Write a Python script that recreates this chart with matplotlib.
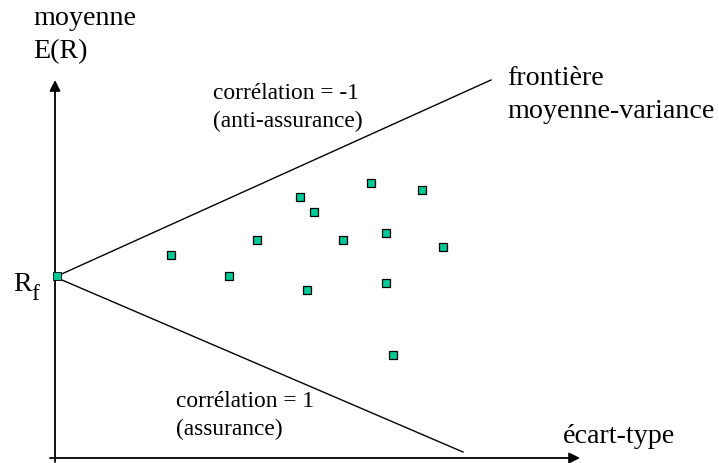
import matplotlib
matplotlib.use("Agg")
import matplotlib.pyplot as plt

plt.rcParams['font.family'] = ['Liberation Serif', 'DejaVu Serif']

# Data (x = écart-type, y = moyenne)
rf = (0.02, 1.82)
asset_sd = [1.16, 1.74, 2.02, 2.45, 2.59, 2.52, 2.88, 3.16, 3.31, 3.31, 3.67, 3.88, 3.38]
asset_mean = [2.03, 1.82, 2.18, 2.61, 2.46, 1.68, 2.18, 2.75, 2.25, 1.75, 2.68, 2.11, 1.03]
upper_sd = [0.0, 4.36]
upper_mean = [1.81, 3.78]
lower_sd = [0.0, 4.08]
lower_mean = [1.81, 0.06]

W, H = 719, 463
fig = plt.figure(figsize=(W / 100, H / 100), dpi=100)
ax = fig.add_axes([0, 0, 1, 1])
ax.set_xlim(-0.55, 6.64)
ax.set_ylim(-0.05, 4.58)
ax.axis('off')

# axes with arrows
arrow = dict(arrowstyle='-|>', color='black', lw=1.3, mutation_scale=16,
             shrinkA=0, shrinkB=0)
ax.annotate('', xy=(0.0, 3.78), xytext=(0.0, -0.04), arrowprops=arrow)
ax.annotate('', xy=(5.25, 0.0), xytext=(-0.05, 0.0), arrowprops=arrow)

# frontier lines
ax.plot(upper_sd, upper_mean, color='black', lw=1.0)
ax.plot(lower_sd, lower_mean, color='black', lw=1.0)

# assets
ax.scatter(asset_sd, asset_mean, marker='s', s=30, c='#00C896',
           edgecolors='black', linewidths=0.9, zorder=3)
ax.scatter([rf[0]], [rf[1]], marker='s', s=30, c='#00C896',
           edgecolors='black', linewidths=0.6, zorder=3)

big = 20.2
small = 16.8
ax.text(-0.22, 4.33, 'moyenne', fontsize=big, va='baseline', ha='left')
ax.text(-0.22, 4.00, 'E(R)', fontsize=big, va='baseline', ha='left')
ax.text(-0.42, 1.67, 'R', fontsize=big, va='baseline', ha='left')
ax.text(-0.235, 1.58, 'f', fontsize=17, va='baseline', ha='left')
ax.text(1.58, 3.59, 'corrélation = -1', fontsize=small, va='baseline', ha='left')
ax.text(1.58, 3.31, '(anti-assurance)', fontsize=small, va='baseline', ha='left')
ax.text(1.21, 0.51, 'corrélation = 1', fontsize=small, va='baseline', ha='left')
ax.text(1.21, 0.23, '(assurance)', fontsize=small, va='baseline', ha='left')
ax.text(4.52, 3.73, 'frontière', fontsize=big, va='baseline', ha='left')
ax.text(4.52, 3.40, 'moyenne-variance', fontsize=big, va='baseline', ha='left')
ax.text(5.08, 0.15, 'écart-type', fontsize=big, va='baseline', ha='left')

fig.savefig('out.png', dpi=100)
